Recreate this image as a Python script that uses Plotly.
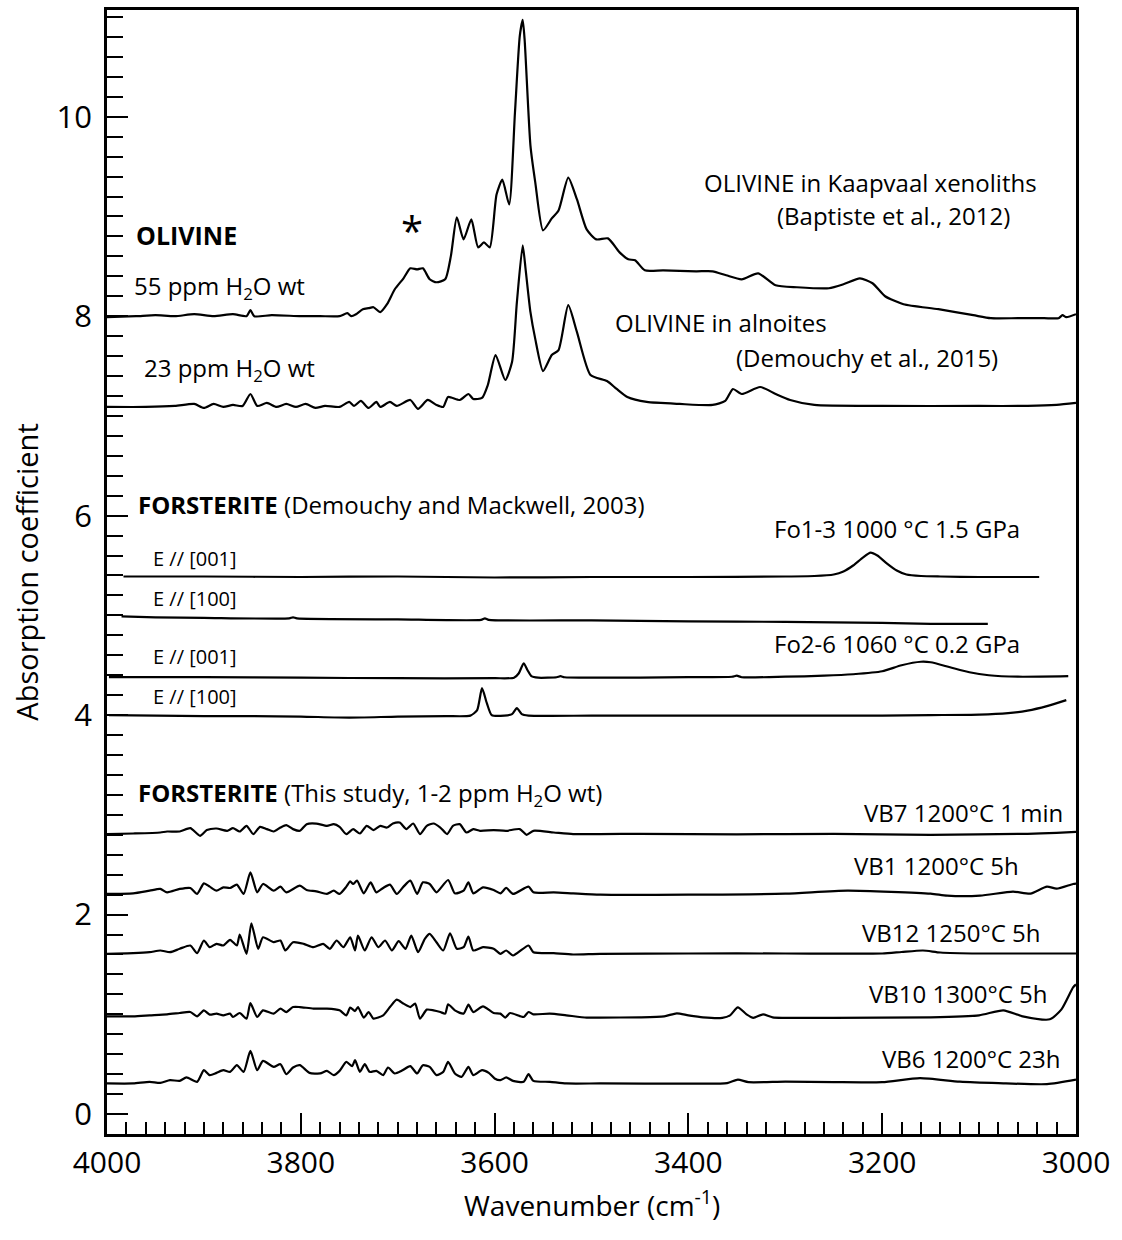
import plotly.graph_objects as go

# ---------------- data (wavenumber cm-1, absorption coefficient) ----------------
kaap_wn = [4000, 3970, 3950, 3930, 3910, 3890, 3870, 3856, 3852, 3848, 3830, 3800, 3780, 3760, 3752, 3748, 3743,
           3736, 3730, 3725, 3718, 3711, 3703, 3694, 3687, 3680, 3674, 3667, 3660, 3651, 3645, 3639, 3632, 3624,
           3617, 3611, 3605, 3598, 3592, 3585, 3579, 3574, 3571, 3569, 3563, 3558, 3550, 3541, 3534, 3524, 3515,
           3505, 3495, 3483, 3471, 3462, 3455, 3445, 3426, 3392, 3375, 3361, 3345, 3328, 3310, 3288, 3255, 3240,
           3223, 3210, 3197, 3178, 3142, 3106, 3088, 3060, 3033, 3018, 3014, 3010, 3000]
kaap_abs = [7.99, 8.00, 8.01, 8.00, 8.02, 8.00, 8.02, 8.00, 8.06, 8.00, 8.01, 8.00, 8.00, 8.00, 8.03, 8.00, 8.02,
            8.07, 8.08, 8.09, 8.04, 8.12, 8.27, 8.38, 8.48, 8.47, 8.48, 8.37, 8.34, 8.37, 8.61, 8.99, 8.77, 8.97,
            8.69, 8.74, 8.69, 9.22, 9.37, 9.12, 10.04, 10.81, 10.97, 10.77, 9.71, 9.34, 8.86, 8.98, 9.06, 9.39, 9.17,
            8.87, 8.77, 8.78, 8.64, 8.57, 8.56, 8.46, 8.46, 8.45, 8.45, 8.41, 8.37, 8.43, 8.31, 8.29, 8.28, 8.32,
            8.38, 8.33, 8.20, 8.12, 8.07, 8.01, 7.98, 7.98, 7.98, 7.98, 8.01, 7.99, 8.02]

aln_wn = [4000, 3960, 3930, 3910, 3900, 3890, 3880, 3870, 3860, 3852, 3845, 3835, 3825, 3815, 3805, 3795, 3785,
          3775, 3760, 3750, 3745, 3738, 3730, 3722, 3718, 3708, 3701, 3687, 3679, 3669, 3660, 3653, 3648, 3636,
          3627, 3622, 3613, 3607, 3599, 3589, 3582, 3577, 3571, 3568, 3563, 3558, 3550, 3541, 3534, 3524, 3515,
          3501, 3484, 3474, 3463, 3443, 3409, 3375, 3362, 3354, 3345, 3326, 3310, 3295, 3270, 3200, 3100, 3050,
          3020, 3000]
aln_abs = [7.09, 7.09, 7.10, 7.12, 7.08, 7.12, 7.09, 7.11, 7.10, 7.22, 7.10, 7.13, 7.09, 7.12, 7.09, 7.12, 7.08,
           7.10, 7.09, 7.14, 7.10, 7.15, 7.08, 7.14, 7.09, 7.14, 7.10, 7.16, 7.07, 7.16, 7.11, 7.09, 7.19, 7.16,
           7.22, 7.17, 7.18, 7.31, 7.61, 7.36, 7.54, 8.14, 8.71, 8.47, 8.04, 7.77, 7.45, 7.61, 7.66, 8.11, 7.84,
           7.41, 7.35, 7.27, 7.19, 7.14, 7.12, 7.11, 7.15, 7.27, 7.22, 7.29, 7.22, 7.16, 7.11, 7.10, 7.10, 7.10,
           7.11, 7.13]

fo13_001_wn = [3983, 3900, 3800, 3700, 3600, 3500, 3400, 3300, 3270, 3250, 3240, 3230, 3220, 3212, 3205, 3195,
               3185, 3175, 3160, 3140, 3100, 3038]
fo13_001_abs = [5.39, 5.39, 5.385, 5.39, 5.38, 5.385, 5.385, 5.39, 5.395, 5.41, 5.44, 5.50, 5.58, 5.63, 5.60,
                5.52, 5.45, 5.41, 5.395, 5.39, 5.385, 5.385]

fo13_100_wn = [3985, 3950, 3900, 3812, 3808, 3804, 3700, 3614, 3610, 3606, 3500, 3400, 3300, 3200, 3150, 3091]
fo13_100_abs = [4.99, 4.98, 4.975, 4.97, 4.98, 4.97, 4.96, 4.955, 4.97, 4.955, 4.95, 4.94, 4.935, 4.925, 4.915, 4.915]

fo26_001_wn = [3998, 3900, 3800, 3700, 3600, 3580, 3575, 3570, 3566, 3562, 3555, 3536, 3532, 3528, 3500, 3400,
               3355, 3350, 3345, 3300, 3260, 3230, 3200, 3180, 3160, 3150, 3130, 3110, 3090, 3060, 3008]
fo26_001_abs = [4.38, 4.38, 4.375, 4.37, 4.37, 4.375, 4.42, 4.52, 4.45, 4.39, 4.375, 4.38, 4.39, 4.38, 4.375,
                4.38, 4.385, 4.395, 4.38, 4.385, 4.395, 4.41, 4.44, 4.50, 4.535, 4.53, 4.48, 4.43, 4.40, 4.385, 4.39]

fo26_100_wn = [3998, 3900, 3850, 3800, 3750, 3700, 3650, 3625, 3618, 3613, 3608, 3603, 3590, 3582, 3577, 3572,
               3565, 3500, 3400, 3300, 3200, 3150, 3100, 3070, 3050, 3030, 3010]
fo26_100_abs = [4.00, 3.99, 3.99, 3.985, 3.975, 3.985, 3.99, 3.995, 4.05, 4.27, 4.12, 4.00, 3.995, 4.01, 4.07,
                4.01, 3.995, 3.995, 3.995, 3.995, 3.995, 4.00, 4.005, 4.02, 4.045, 4.09, 4.15]

vb7_wn = [4000, 3973, 3945, 3938, 3925, 3914, 3904, 3897, 3887, 3876, 3870, 3863, 3856, 3849, 3842, 3835, 3828,
          3821, 3815, 3808, 3801, 3794, 3784, 3773, 3766, 3760, 3753, 3746, 3739, 3732, 3725, 3718, 3711, 3705,
          3698, 3691, 3684, 3677, 3670, 3663, 3656, 3649, 3643, 3636, 3629, 3622, 3615, 3601, 3588, 3574, 3567,
          3560, 3539, 3519, 3491, 3450, 3350, 3250, 3150, 3050, 3020, 3000]
vb7_abs = [2.807, 2.813, 2.823, 2.833, 2.833, 2.867, 2.79, 2.847, 2.863, 2.84, 2.867, 2.833, 2.89, 2.807, 2.88,
           2.857, 2.833, 2.873, 2.897, 2.857, 2.84, 2.907, 2.913, 2.89, 2.907, 2.88, 2.807, 2.857, 2.813, 2.89,
           2.847, 2.89, 2.873, 2.913, 2.923, 2.857, 2.913, 2.807, 2.89, 2.913, 2.873, 2.807, 2.89, 2.907, 2.823,
           2.857, 2.84, 2.847, 2.84, 2.857, 2.80, 2.84, 2.823, 2.807, 2.807, 2.81, 2.805, 2.81, 2.80, 2.81, 2.82, 2.83]

vb1_wn = [4000, 3973, 3956, 3945, 3938, 3925, 3914, 3907, 3900, 3894, 3887, 3880, 3873, 3866, 3859, 3852, 3845,
          3839, 3828, 3821, 3815, 3801, 3794, 3784, 3773, 3766, 3760, 3753, 3749, 3746, 3742, 3735, 3728, 3722,
          3715, 3708, 3701, 3694, 3687, 3680, 3674, 3667, 3660, 3648, 3641, 3632, 3627, 3622, 3612, 3601, 3594,
          3588, 3581, 3565, 3560, 3539, 3519, 3491, 3400, 3300, 3236, 3150, 3133, 3099, 3065, 3047, 3030, 3020,
          3003, 3000]
vb1_abs = [2.207, 2.213, 2.24, 2.257, 2.223, 2.257, 2.267, 2.207, 2.313, 2.28, 2.24, 2.273, 2.267, 2.30, 2.207,
           2.423, 2.223, 2.307, 2.24, 2.28, 2.223, 2.29, 2.247, 2.233, 2.207, 2.24, 2.207, 2.28, 2.333, 2.307,
           2.34, 2.213, 2.323, 2.223, 2.267, 2.30, 2.207, 2.28, 2.34, 2.207, 2.323, 2.307, 2.223, 2.347, 2.213,
           2.24, 2.323, 2.213, 2.273, 2.247, 2.213, 2.267, 2.207, 2.28, 2.223, 2.223, 2.213, 2.20, 2.20, 2.21,
           2.24, 2.21, 2.19, 2.19, 2.23, 2.21, 2.28, 2.26, 2.307, 2.31]

vb12_wn = [4000, 3973, 3956, 3945, 3935, 3925, 3914, 3907, 3900, 3894, 3887, 3880, 3873, 3866, 3863, 3856, 3851,
           3844, 3839, 3828, 3821, 3816, 3808, 3797, 3787, 3777, 3770, 3763, 3756, 3749, 3744, 3741, 3734, 3727,
           3720, 3713, 3706, 3699, 3692, 3686, 3679, 3672, 3667, 3660, 3653, 3646, 3639, 3632, 3627, 3622, 3612,
           3601, 3594, 3588, 3581, 3565, 3560, 3539, 3519, 3491, 3400, 3300, 3200, 3180, 3158, 3140, 3100, 3000]
vb12_abs = [1.607, 1.613, 1.623, 1.64, 1.623, 1.657, 1.69, 1.613, 1.74, 1.673, 1.707, 1.69, 1.747, 1.69, 1.80,
            1.607, 1.913, 1.657, 1.773, 1.723, 1.74, 1.64, 1.723, 1.707, 1.673, 1.707, 1.657, 1.74, 1.673, 1.773,
            1.64, 1.79, 1.64, 1.773, 1.673, 1.74, 1.64, 1.733, 1.657, 1.79, 1.623, 1.757, 1.807, 1.723, 1.64,
            1.813, 1.657, 1.673, 1.78, 1.64, 1.673, 1.657, 1.607, 1.64, 1.59, 1.69, 1.623, 1.613, 1.60, 1.607,
            1.61, 1.61, 1.61, 1.625, 1.64, 1.62, 1.61, 1.61]

vb10_wn = [4000, 3973, 3956, 3938, 3925, 3914, 3907, 3900, 3894, 3887, 3880, 3873, 3870, 3863, 3856, 3852, 3845,
           3839, 3828, 3821, 3815, 3808, 3801, 3787, 3773, 3760, 3753, 3749, 3744, 3741, 3735, 3730, 3725, 3715,
           3708, 3701, 3694, 3687, 3682, 3677, 3670, 3663, 3656, 3651, 3648, 3641, 3632, 3627, 3622, 3612, 3601,
           3594, 3589, 3584, 3570, 3565, 3560, 3543, 3526, 3505, 3491, 3450, 3425, 3412, 3400, 3385, 3365, 3357,
           3349, 3340, 3333, 3323, 3313, 3250, 3150, 3100, 3075, 3055, 3027, 3015, 3003, 3000]
vb10_abs = [0.98, 0.98, 0.99, 1.0, 1.013, 1.023, 0.98, 1.04, 0.997, 1.007, 0.99, 1.007, 0.973, 1.013, 0.957,
            1.113, 0.973, 1.04, 1.007, 1.057, 1.023, 1.073, 1.073, 1.057, 1.057, 1.04, 0.99, 1.067, 1.033, 1.073,
            0.967, 1.023, 0.957, 0.99, 1.073, 1.147, 1.107, 1.073, 1.107, 0.957, 1.047, 1.04, 1.023, 1.007, 1.10,
            1.04, 1.007, 1.097, 1.023, 1.08, 1.013, 1.007, 0.967, 1.013, 0.973, 1.023, 1.0, 1.007, 0.99, 0.967,
            0.967, 0.97, 0.98, 1.01, 0.99, 0.97, 0.965, 0.99, 1.07, 1.0, 0.965, 1.0, 0.97, 0.965, 0.97, 0.99,
            1.04, 0.98, 0.95, 1.05, 1.27, 1.30]

vb6_wn = [4000, 3973, 3956, 3945, 3935, 3925, 3918, 3907, 3900, 3894, 3887, 3880, 3873, 3866, 3859, 3852, 3845,
          3839, 3828, 3821, 3815, 3808, 3801, 3791, 3780, 3773, 3766, 3760, 3753, 3747, 3744, 3739, 3734, 3729,
          3722, 3715, 3710, 3703, 3696, 3687, 3680, 3674, 3667, 3660, 3653, 3648, 3641, 3634, 3627, 3622, 3613,
          3606, 3600, 3594, 3588, 3581, 3570, 3565, 3560, 3543, 3526, 3491, 3400, 3360, 3349, 3338, 3300, 3250,
          3200, 3161, 3120, 3080, 3030, 3000]
vb6_abs = [0.307, 0.307, 0.323, 0.313, 0.34, 0.333, 0.367, 0.323, 0.44, 0.39, 0.413, 0.44, 0.423, 0.49, 0.423,
           0.633, 0.44, 0.533, 0.473, 0.50, 0.40, 0.467, 0.49, 0.413, 0.407, 0.433, 0.39, 0.433, 0.523, 0.48,
           0.54, 0.423, 0.50, 0.423, 0.433, 0.39, 0.467, 0.407, 0.433, 0.48, 0.407, 0.49, 0.473, 0.39, 0.423,
           0.523, 0.407, 0.373, 0.473, 0.39, 0.44, 0.413, 0.357, 0.34, 0.367, 0.333, 0.323, 0.40, 0.333, 0.323,
           0.307, 0.307, 0.305, 0.31, 0.345, 0.32, 0.325, 0.32, 0.32, 0.36, 0.325, 0.31, 0.30, 0.345]

series = [
    (kaap_wn, kaap_abs), (aln_wn, aln_abs),
    (fo13_001_wn, fo13_001_abs), (fo13_100_wn, fo13_100_abs),
    (fo26_001_wn, fo26_001_abs), (fo26_100_wn, fo26_100_abs),
    (vb7_wn, vb7_abs), (vb1_wn, vb1_abs), (vb12_wn, vb12_abs), (vb10_wn, vb10_abs), (vb6_wn, vb6_abs),
]

FONT = "Open Sans"
fig = go.Figure()
for wn, ab in series:
    fig.add_trace(go.Scatter(x=wn, y=ab, mode="lines", showlegend=False,
                             line=dict(color="black", width=2.2, shape="spline", smoothing=0.6)))

def ann(text, x, y, size=24, anchor="left", bold=False):
    if bold:
        text = "<b>" + text + "</b>"
    fig.add_annotation(x=x, y=y, xref="x", yref="y", text=text, showarrow=False,
                       xanchor=anchor, yanchor="middle",
                       font=dict(family=FONT, size=size, color="black"))

ann("OLIVINE", 3972, 8.81, size=25, bold=True)
ann("55 ppm H<sub>2</sub>O wt", 3974, 8.29, size=24)
ann("*", 3685, 8.86, size=40, anchor="center")
ann("23 ppm H<sub>2</sub>O wt", 3964, 7.47, size=24)
ann("OLIVINE in Kaapvaal xenoliths", 3038, 9.34, size=24, anchor="right")
ann("(Baptiste et al., 2012)", 3066, 9.01, size=24, anchor="right")
ann("OLIVINE in alnoites", 3478, 7.94, size=24)
ann("(Demouchy et al., 2015)", 3078, 7.59, size=24, anchor="right")
ann("<b>FORSTERITE</b> (Demouchy and Mackwell, 2003)", 3970, 6.11, size=24)
ann("Fo1-3 1000 °C 1.5 GPa", 3056, 5.87, size=24, anchor="right")
ann("E // [001]", 3955, 5.57, size=20)
ann("E // [100]", 3955, 5.17, size=20)
ann("Fo2-6 1060 °C 0.2 GPa", 3056, 4.72, size=24, anchor="right")
ann("E // [001]", 3955, 4.59, size=20)
ann("E // [100]", 3955, 4.19, size=20)
ann("<b>FORSTERITE</b> (This study, 1-2 ppm H<sub>2</sub>O wt)", 3970, 3.21, size=24)
ann("VB7 1200°C 1 min", 3011, 3.02, size=24, anchor="right")
ann("VB1 1200°C 5h", 3057, 2.49, size=24, anchor="right")
ann("VB12 1250°C 5h", 3035, 1.82, size=24, anchor="right")
ann("VB10 1300°C 5h", 3028, 1.21, size=24, anchor="right")
ann("VB6 1200°C 23h", 3014, 0.56, size=24, anchor="right")

# x-axis title placed as paper-referenced text just below the tick labels
fig.add_annotation(x=0.5, y=-0.062, xref="paper", yref="paper", text="Wavenumber (cm<sup>-1</sup>)",
                   showarrow=False, xanchor="center", yanchor="middle",
                   font=dict(family=FONT, size=28, color="black"))

fig.update_xaxes(range=[4000, 3000], tickvals=[4000, 3800, 3600, 3400, 3200, 3000],
                 ticks="inside", ticklen=21, tickwidth=2, tickcolor="black",
                 minor=dict(dtick=20, tick0=3000, ticks="inside", ticklen=12, tickwidth=2, tickcolor="black"),
                 showline=True, linewidth=2.5, linecolor="black", mirror=True,
                 showgrid=False, zeroline=False,
                 tickfont=dict(family=FONT, size=30, color="black"))
fig.update_yaxes(range=[-0.2, 11.07], tickvals=[0, 2, 4, 6, 8, 10],
                 ticks="inside", ticklen=21, tickwidth=2, tickcolor="black",
                 minor=dict(dtick=0.2, tick0=0, ticks="inside", ticklen=16, tickwidth=2, tickcolor="black"),
                 showline=True, linewidth=2.5, linecolor="black", mirror=True,
                 showgrid=False, zeroline=False, ticklabelstandoff=6,
                 tickfont=dict(family=FONT, size=31, color="black"),
                 title=dict(text="Absorption coefficient", standoff=10,
                            font=dict(family=FONT, size=29, color="black")))

fig.update_layout(width=1122, height=1240, margin=dict(l=107, r=46, t=7, b=106),
                  paper_bgcolor="white", plot_bgcolor="white")

fig.write_html("out.html")
